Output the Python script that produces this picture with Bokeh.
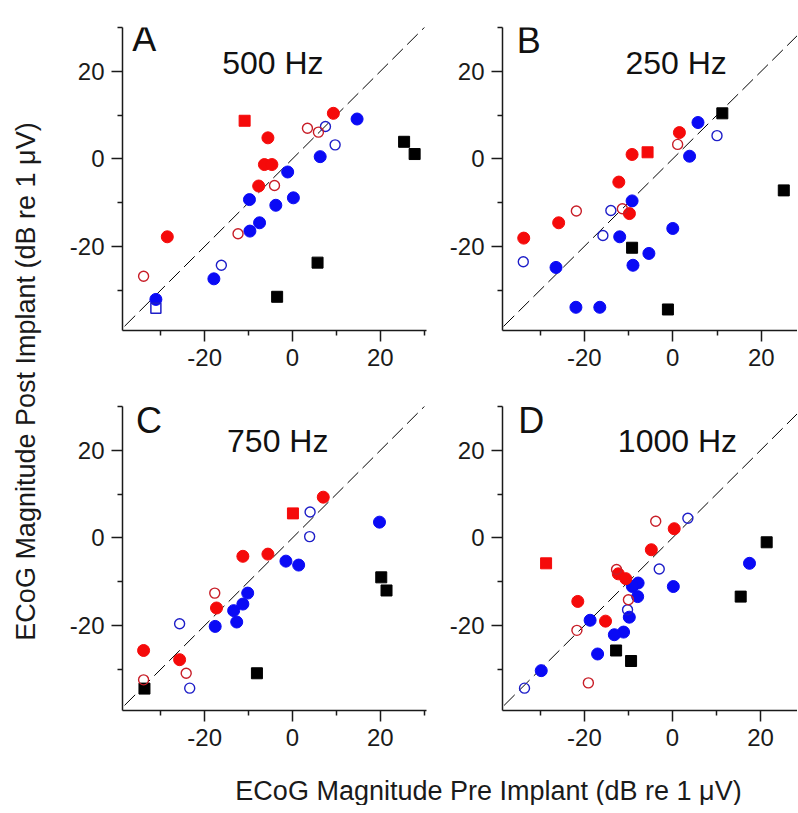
import math
from bokeh.plotting import figure
from bokeh.models import FixedTicker, Label
from bokeh.layouts import row, column
from bokeh.embed import file_html
from bokeh.resources import INLINE

FONT = "Liberation Sans"

panel_letters = ["A", "B", "C", "D"]
panel_freqs = ["500 Hz", "250 Hz", "750 Hz", "1000 Hz"]
major_ticks = [-20, 0, 20]
major_tick_labels = ["-20", "0", "20"]
minor_ticks = [-30, -10, 10, 30]
identity_line = [-45, 45]

# ---------------- Panel A : 500 Hz ----------------
a_red_fill_x = [9.3, -5.6, -6.4, -4.7, -7.7, -28.5]
a_red_fill_y = [10.4, 4.8, -1.3, -1.3, -6.2, -17.8]
a_red_open_x = [3.4, 5.9, -4.1, -12.4, -33.9]
a_red_open_y = [7.0, 6.1, -6.1, -17.1, -26.8]
a_red_sq_x = [-10.9]
a_red_sq_y = [8.7]
a_blue_fill_x = [14.7, 6.3, -1.1, 0.2, -9.8, -3.8, -7.5, -9.7, -17.9, -31.1]
a_blue_fill_y = [9.1, 0.5, -3.0, -8.9, -9.3, -10.6, -14.6, -16.5, -27.4, -32.1]
a_blue_open_x = [7.5, 9.7, -16.2]
a_blue_open_y = [7.4, 3.2, -24.3]
a_blue_osq_x = [-31.1]
a_blue_osq_y = [-34.1]
a_black_x = [25.4, 27.8, 5.7, -3.5]
a_black_y = [3.9, 1.1, -23.7, -31.5]

# ---------------- Panel B : 250 Hz ----------------
b_red_fill_x = [1.5, -9.2, -12.2, -9.8, -25.8, -33.7]
b_red_fill_y = [6.0, 1.0, -5.3, -12.5, -14.6, -18.1]
b_red_open_x = [1.1, -21.8, -11.4]
b_red_open_y = [3.3, -11.9, -11.4]
b_red_sq_x = [-5.7]
b_red_sq_y = [1.5]
b_blue_fill_x = [5.7, 3.8, -9.2, 0.0, -12.0, -5.4, -9.0, -26.4, -21.9, -16.5]
b_blue_fill_y = [8.3, 0.6, -9.6, -15.9, -17.8, -21.6, -24.3, -24.8, -33.9, -33.9]
b_blue_open_x = [10.0, -14.0, -15.8, -33.8]
b_blue_open_y = [5.3, -11.8, -17.5, -23.5]
b_blue_osq_x = []
b_blue_osq_y = []
b_black_x = [11.2, 25.1, -9.2, -1.1]
b_black_y = [10.4, -7.2, -20.3, -34.4]

# ---------------- Panel C : 750 Hz ----------------
c_red_fill_x = [7.0, -5.6, -11.3, -17.3, -33.9, -25.7]
c_red_fill_y = [9.3, -3.7, -4.2, -16.0, -25.7, -27.8]
c_red_open_x = [-17.7, -24.2, -33.9]
c_red_open_y = [-12.6, -30.9, -32.4]
c_red_sq_x = [0.1]
c_red_sq_y = [5.6]
c_blue_fill_x = [19.8, -1.5, 1.4, -10.2, -11.3, -13.4, -12.7, -17.6]
c_blue_fill_y = [3.6, -5.3, -6.2, -12.6, -15.1, -16.6, -19.2, -20.2]
c_blue_open_x = [4.0, 3.9, -25.7, -23.4]
c_blue_open_y = [5.9, 0.3, -19.6, -34.3]
c_blue_osq_x = []
c_blue_osq_y = []
c_black_x = [20.2, 21.4, -8.1, -33.7]
c_black_y = [-9.0, -12.0, -30.9, -34.4]

# ---------------- Panel D : 1000 Hz ----------------
d_red_fill_x = [0.4, -4.8, -12.3, -10.6, -21.5, -15.2]
d_red_fill_y = [2.1, -2.7, -8.2, -9.3, -14.5, -19.0]
d_red_open_x = [-3.8, -12.7, -10.0, -21.7, -19.1]
d_red_open_y = [3.8, -7.2, -14.1, -21.1, -33.1]
d_red_sq_x = [-28.7]
d_red_sq_y = [-5.8]
d_blue_fill_x = [17.5, 0.2, -7.8, -9.1, -7.9, -9.8, -18.7, -11.1, -13.2, -17.0, -29.8]
d_blue_fill_y = [-5.8, -11.1, -10.3, -11.1, -13.4, -18.1, -18.8, -21.5, -22.1, -26.5, -30.3]
d_blue_open_x = [3.5, -3.0, -10.2, -33.6]
d_blue_open_y = [4.5, -7.1, -16.4, -34.3]
d_blue_osq_x = []
d_blue_osq_y = []
d_black_x = [21.4, 15.5, -12.8, -9.4]
d_black_y = [-1.0, -13.4, -25.7, -28.1]

RED = "#f50a0a"
BLUE = "#0a0af5"
RED_LINE = "#c81e28"
BLUE_LINE = "#1e1ec8"


def style_axes(p):
    p.xgrid.visible = False
    p.ygrid.visible = False
    p.outline_line_color = None
    p.background_fill_color = "white"
    p.border_fill_color = "white"
    overrides = {t: s for t, s in zip(major_ticks, major_tick_labels)}
    for ax in (p.xaxis[0], p.yaxis[0]):
        ax.ticker = FixedTicker(ticks=major_ticks, minor_ticks=minor_ticks)
        ax.major_label_overrides = overrides
        ax.major_tick_out = 11
        ax.major_tick_in = 0
        ax.minor_tick_out = 5
        ax.minor_tick_in = 0
        ax.axis_line_width = 1.5
        ax.axis_line_color = "#1a1a1a"
        ax.major_tick_line_width = 1.5
        ax.minor_tick_line_width = 1.5
        ax.major_tick_line_color = "#1a1a1a"
        ax.minor_tick_line_color = "#1a1a1a"
        ax.major_label_text_font = FONT
        ax.major_label_text_font_size = "24px"
        ax.major_label_text_color = "#1a1a1a"
        ax.major_label_standoff = 7


def make_panel(width, height, borders, xr, yr, series, letter, freq, letter_pos, freq_pos):
    bl, br, bt, bb = borders
    p = figure(width=width, height=height, x_range=xr, y_range=yr,
               output_backend="svg", toolbar_location=None,
               min_border_left=bl, min_border_right=br,
               min_border_top=bt, min_border_bottom=bb)
    style_axes(p)
    p.line(identity_line, identity_line, line_color="black", line_width=1,
           line_dash="15 6")
    (rfx, rfy, rox, roy, rsx, rsy, bfx, bfy, box_, boy, bsx, bsy, kx, ky) = series
    p.scatter(kx, ky, marker="square", size=11, fill_color="black", line_color="black")
    p.scatter(bfx, bfy, marker="circle", size=12, fill_color=BLUE, line_color=BLUE)
    p.scatter(box_, boy, marker="circle", size=10, fill_color=None,
              line_color=BLUE_LINE, line_width=1.4)
    p.scatter(bsx, bsy, marker="square", size=10, fill_color=None,
              line_color=BLUE_LINE, line_width=1.5)
    p.scatter(rfx, rfy, marker="circle", size=12, fill_color=RED, line_color=RED)
    p.scatter(rox, roy, marker="circle", size=10, fill_color=None,
              line_color=RED_LINE, line_width=1.4)
    p.scatter(rsx, rsy, marker="square", size=11, fill_color=RED, line_color=RED)
    p.add_layout(Label(x=letter_pos[0], y=letter_pos[1], text=letter,
                       text_font=FONT, text_font_size="36px", text_color="#111111",
                       text_baseline="alphabetic", text_align="left"))
    p.add_layout(Label(x=freq_pos[0], y=freq_pos[1], text=freq,
                       text_font=FONT, text_font_size="32px", text_color="#111111",
                       text_baseline="alphabetic", text_align="left"))
    return p


series_a = (a_red_fill_x, a_red_fill_y, a_red_open_x, a_red_open_y, a_red_sq_x, a_red_sq_y,
            a_blue_fill_x, a_blue_fill_y, a_blue_open_x, a_blue_open_y, a_blue_osq_x, a_blue_osq_y,
            a_black_x, a_black_y)
series_b = (b_red_fill_x, b_red_fill_y, b_red_open_x, b_red_open_y, b_red_sq_x, b_red_sq_y,
            b_blue_fill_x, b_blue_fill_y, b_blue_open_x, b_blue_open_y, b_blue_osq_x, b_blue_osq_y,
            b_black_x, b_black_y)
series_c = (c_red_fill_x, c_red_fill_y, c_red_open_x, c_red_open_y, c_red_sq_x, c_red_sq_y,
            c_blue_fill_x, c_blue_fill_y, c_blue_open_x, c_blue_open_y, c_blue_osq_x, c_blue_osq_y,
            c_black_x, c_black_y)
series_d = (d_red_fill_x, d_red_fill_y, d_red_open_x, d_red_open_y, d_red_sq_x, d_red_sq_y,
            d_blue_fill_x, d_blue_fill_y, d_blue_open_x, d_blue_open_y, d_blue_osq_x, d_blue_osq_y,
            d_black_x, d_black_y)

pA = make_panel(392, 380, (74, 14, 27, 50), (-38.7, 30.5), (-39.2, 30.0), series_a,
                panel_letters[0], panel_freqs[0], (-36.5, 27.5), (-16.0, 21.8))
pB = make_panel(357, 380, (62, 0, 27, 50), (-38.5, 28.2), (-39.2, 30.0), series_b,
                panel_letters[1], panel_freqs[1], (-35.3, 27.0), (-10.7, 21.8))
pC = make_panel(392, 380, (74, 14, 26, 50), (-38.7, 30.5), (-39.4, 30.0), series_c,
                panel_letters[2], panel_freqs[2], (-35.6, 26.8), (-14.9, 22.2))
pD = make_panel(357, 380, (62, 0, 26, 50), (-38.6, 28.4), (-39.4, 30.0), series_d,
                panel_letters[3], panel_freqs[3], (-35.0, 26.8), (-12.4, 22.2))


def text_fig(w, h):
    f = figure(width=w, height=h, x_range=(0, w), y_range=(0, h),
               output_backend="svg", toolbar_location=None,
               x_axis_type=None, y_axis_type=None, min_border=0)
    f.xgrid.visible = False
    f.ygrid.visible = False
    f.outline_line_color = None
    f.background_fill_color = "white"
    f.border_fill_color = "white"
    return f


ylab = text_fig(48, 760)
ylab.add_layout(Label(x=25, y=379, text="ECoG Magnitude Post Implant (dB re 1 \u03bcV)",
                      angle=math.pi / 2, angle_units="rad",
                      text_font=FONT, text_font_size="27px", text_color="#1a1a1a",
                      text_align="center", text_baseline="middle"))

xlab = text_fig(797, 45)
xlab.add_layout(Label(x=488, y=15, text="ECoG Magnitude Pre Implant (dB re 1 \u03bcV)",
                      text_font=FONT, text_font_size="27px", text_color="#1a1a1a",
                      text_align="center", text_baseline="middle"))

grid = column(row(pA, pB), row(pC, pD))
layout = column(row(ylab, grid), xlab)

open("out.html", "w").write(file_html(layout, INLINE))
